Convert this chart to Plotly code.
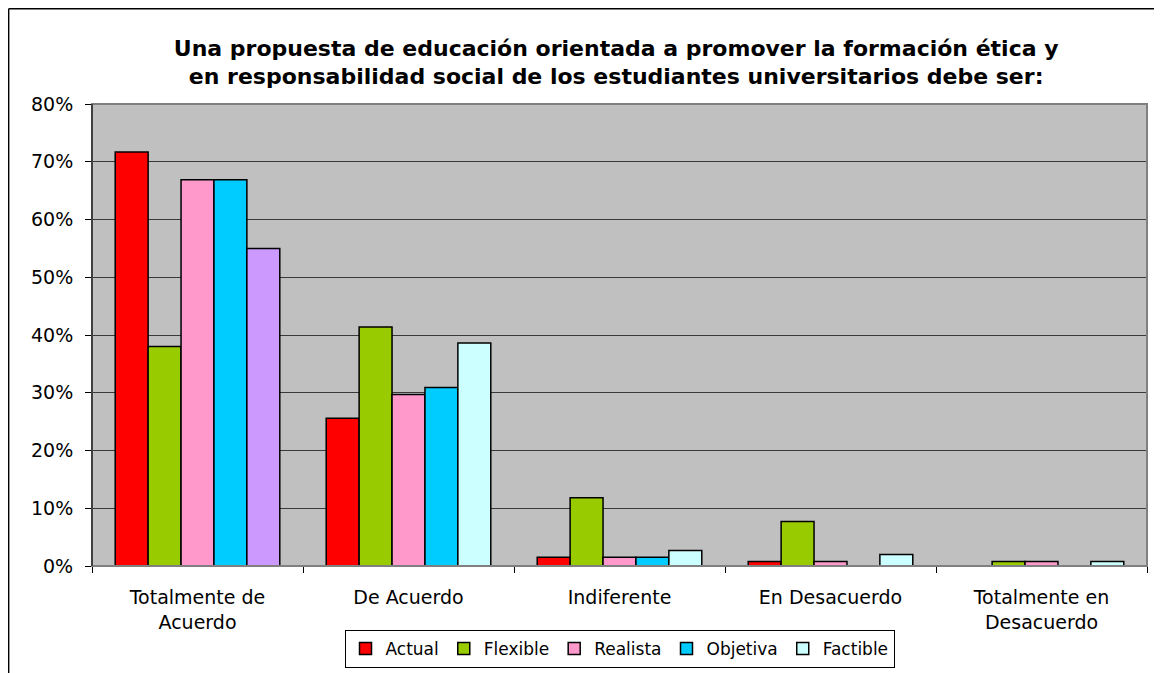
import plotly.graph_objects as go

categories = ["Totalmente de<br>Acuerdo", "De Acuerdo", "Indiferente",
              "En Desacuerdo", "Totalmente en<br>Desacuerdo"]

actual = [71.7, 25.6, 1.5, 0.8, 0.0]
flexible = [38.0, 41.4, 11.8, 7.7, 0.8]
realista = [66.9, 29.7, 1.5, 0.8, 0.8]
objetiva = [66.9, 30.9, 1.5, 0.0, 0.0]
factible = [55.0, 38.6, 2.7, 2.0, 0.8]

y_ticks = [0, 10, 20, 30, 40, 50, 60, 70, 80]

series = [
    ("Actual", actual, "#FF0000"),
    ("Flexible", flexible, "#99CC00"),
    ("Realista", realista, "#FF99CC"),
    ("Objetiva", objetiva, "#00CCFF"),
    ("Factible", factible, "#CCFFFF"),
]

fig = go.Figure()

for name, values, color in series:
    colors = [color] * len(values)
    show = True
    if name == "Factible":
        # first bar of this series is lavender in the original,
        # the legend still shows light cyan
        colors[0] = "#CC99FF"
        show = False
    fig.add_trace(
        go.Bar(
            x=categories,
            y=values,
            name=name,
            offsetgroup=name,
            showlegend=show,
            marker=dict(color=colors, line=dict(color="#000000", width=1.5))
        )
    )
    if name == "Factible":
        fig.add_trace(
            go.Bar(
                x=categories,
                y=[None] * len(values),
                name=name,
                offsetgroup=name,
                marker=dict(color=color, line=dict(color="#000000", width=1.5))
            )
        )

font = "DejaVu Sans, Verdana, sans-serif"

fig.update_layout(
    width=1154,
    height=665,
    paper_bgcolor="white",
    plot_bgcolor="#C0C0C0",
    barmode="group",
    bargap=0.22,
    bargroupgap=0,
    margin=dict(l=84, r=15, t=96, b=107),
    font=dict(family=font, size=19, color="#000000"),
    title=dict(
        text="<b>Una propuesta de educación orientada a promover la formación ética y<br>"
             "en responsabilidad social de los estudiantes universitarios debe ser:</b>",
        x=0.527,
        xanchor="center",
        y=0.928,
        yanchor="middle",
        yref="container",
        font=dict(family=font, size=22, color="#000000"),
    ),
    legend=dict(
        orientation="h",
        x=0.5,
        xanchor="center",
        yref="container",
        y=0.036,
        yanchor="middle",
        bordercolor="#000000",
        borderwidth=1,
        bgcolor="white",
        font=dict(family=font, size=17),
        itemwidth=30,
        traceorder="normal",
    ),
    xaxis=dict(
        type="category",
        automargin=False,
        showline=True,
        linecolor="#000000",
        ticks="outside",
        tickson="boundaries",
        ticklen=6,
        tickcolor="#000000",
        ticklabelstandoff=14,
    ),
    yaxis=dict(
        range=[0, 80],
        automargin=False,
        tickvals=y_ticks,
        ticktext=[f"{v}%" for v in y_ticks],
        tickfont=dict(size=19),
        ticklabelstandoff=8,
        showline=True,
        linecolor="#000000",
        ticks="outside",
        ticklen=6,
        tickcolor="#000000",
        showgrid=True,
        gridcolor="#3a3a3a",
        gridwidth=1,
        zeroline=False,
    ),
)

# grey plot-area frame and outer chart border (left/top)
fig.add_shape(type="rect", xref="paper", yref="paper", x0=0, y0=0, x1=1, y1=1,
              line=dict(color="#808080", width=2), layer="above")
fig.add_shape(type="line", xref="paper", yref="paper", x0=0, y0=0, x1=0, y1=1,
              line=dict(color="#000000", width=1), layer="above")
fig.add_shape(type="line", xref="paper", yref="paper", x0=-0.079, y0=1.206,
              x1=1.02, y1=1.206, line=dict(color="#000000", width=1.5))
fig.add_shape(type="line", xref="paper", yref="paper", x0=-0.079, y0=1.206,
              x1=-0.079, y1=-0.24, line=dict(color="#000000", width=1.5))

fig.write_html("out.html")
